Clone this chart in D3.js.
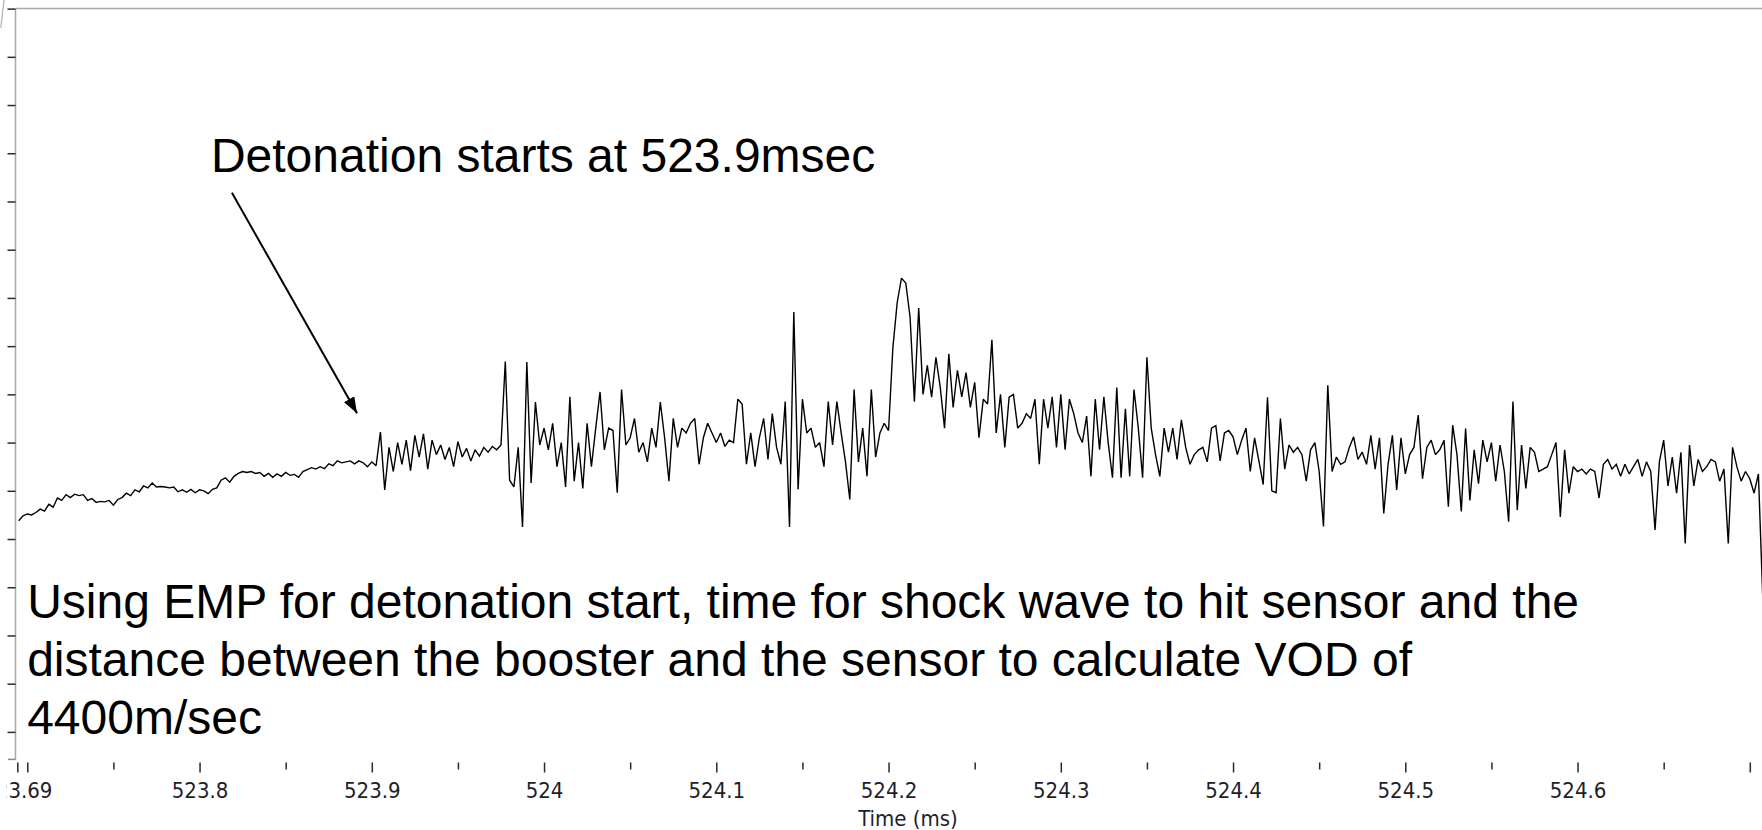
<!DOCTYPE html>
<html>
<head>
<meta charset="utf-8">
<script src="https://cdn.jsdelivr.net/npm/d3@7"></script>
<style>
  html, body { margin: 0; padding: 0; background: #fff; overflow: hidden; }
  svg { display: block; }
  .tick-label { font-family: "DejaVu Sans Condensed", "DejaVu Sans", sans-serif; font-stretch: condensed; font-size: 22px; fill: #1e1e2a; }
  .note { font-family: "Liberation Sans", Arial, sans-serif; font-size: 48px; fill: #000; }
</style>
</head>
<body>
<svg id="chart" width="1762" height="830"></svg>
<script>
// Sensor trace: one sample every 2.5 µs starting at 523.695 ms, vertical scale in screen divisions.
const sampleStart = 523.695;
const sampleStep = 0.0025;
const signal = [
  4.38, 4.48, 4.52, 4.50, 4.55, 4.62, 4.58, 4.72, 4.66, 4.85,
  4.80, 4.92, 4.86, 4.93, 4.90, 4.92, 4.80, 4.84, 4.76, 4.78,
  4.77, 4.80, 4.70, 4.82, 4.86, 4.95, 4.90, 5.02, 4.98, 5.10,
  5.06, 5.16, 5.08, 5.09, 5.08, 5.06, 5.08, 4.98, 5.02, 4.97,
  5.03, 4.96, 5.02, 5.00, 4.94, 5.03, 5.06, 5.22, 5.27, 5.18,
  5.30, 5.36, 5.40, 5.38, 5.40, 5.36, 5.38, 5.30, 5.36, 5.28,
  5.35, 5.30, 5.38, 5.32, 5.34, 5.28, 5.40, 5.44, 5.48, 5.45,
  5.50, 5.46, 5.56, 5.52, 5.62, 5.58, 5.60, 5.62, 5.56, 5.62,
  5.58, 5.50, 5.60, 5.52, 6.22, 5.02, 5.90, 5.40, 6.00, 5.55,
  6.05, 5.42, 6.15, 5.70, 6.18, 5.45, 6.05, 5.75, 5.95, 5.65,
  5.90, 5.50, 6.02, 5.70, 5.88, 5.62, 5.85, 5.72, 5.90, 5.80,
  5.92, 5.85, 5.95, 7.68, 5.22, 5.08, 5.90, 4.25, 7.67, 5.16,
  6.84, 5.95, 6.30, 5.85, 6.40, 5.50, 6.00, 5.08, 6.95, 5.20,
  6.00, 5.05, 6.40, 5.50, 6.30, 7.05, 5.85, 6.30, 6.25, 4.96,
  7.10, 5.95, 6.10, 6.50, 5.80, 6.00, 5.60, 6.30, 5.90, 6.84,
  6.10, 5.20, 6.50, 5.90, 6.30, 6.20, 6.40, 6.50, 5.55, 6.10,
  6.40, 6.20, 6.00, 6.20, 5.92, 6.05, 6.00, 6.90, 6.80, 5.55,
  6.20, 5.50, 6.10, 6.50, 5.65, 6.60, 5.90, 5.55, 6.85, 4.25,
  8.71, 5.03, 6.90, 6.20, 6.30, 5.90, 6.00, 5.50, 6.85, 5.95,
  6.85, 6.20, 5.60, 4.82, 7.10, 5.60, 6.30, 5.30, 7.10, 5.70,
  6.20, 6.40, 6.25, 7.96, 8.90, 9.41, 9.31, 8.60, 6.85, 8.79,
  7.00, 7.60, 6.94, 7.77, 7.15, 6.30, 7.84, 6.73, 7.50, 6.95,
  7.45, 6.73, 7.25, 6.10, 6.90, 6.80, 8.13, 6.20, 7.00, 5.90,
  6.94, 7.00, 6.30, 6.40, 6.60, 6.50, 6.90, 5.55, 6.90, 6.30,
  6.95, 5.90, 7.00, 5.85, 6.90, 6.60, 6.20, 6.00, 6.55, 5.30,
  6.90, 5.85, 6.95, 6.00, 5.27, 7.14, 5.27, 6.70, 5.30, 7.10,
  6.30, 5.27, 7.77, 6.30, 5.75, 5.30, 6.30, 5.80, 6.30, 5.65,
  6.47, 5.90, 5.55, 5.75, 5.85, 5.90, 5.60, 6.30, 6.35, 5.62,
  6.20, 6.25, 6.12, 5.75, 6.05, 6.30, 5.40, 6.10, 5.62, 5.13,
  6.94, 5.00, 4.96, 6.50, 5.45, 5.95, 5.80, 5.90, 5.75, 5.20,
  5.85, 6.00, 5.40, 4.26, 7.19, 5.40, 5.70, 5.55, 5.60, 5.90,
  6.12, 5.65, 5.80, 5.55, 6.15, 5.45, 6.10, 4.53, 5.55, 6.15,
  5.02, 6.10, 5.35, 5.75, 5.90, 6.57, 5.25, 5.90, 6.05, 5.75,
  5.85, 6.05, 4.67, 6.36, 5.75, 4.57, 6.29, 4.80, 5.85, 5.15,
  6.05, 5.60, 6.00, 5.20, 5.95, 5.40, 4.36, 6.85, 4.60, 5.95,
  5.05, 5.90, 5.80, 5.40, 5.45, 5.50, 5.75, 6.00, 4.46, 5.85,
  4.95, 5.50, 5.40, 5.45, 5.35, 5.45, 5.40, 4.85, 5.55, 5.65,
  5.45, 5.55, 5.30, 5.55, 5.35, 5.50, 5.65, 5.30, 5.60, 5.40,
  4.19, 5.60, 6.05, 5.10, 5.70, 4.95, 5.80, 3.91, 5.95, 5.10,
  5.65, 5.40, 5.50, 5.65, 5.60, 5.20, 5.45, 3.91, 5.90, 5.50,
  5.20, 5.40, 5.25, 4.95, 5.35, 2.80, 5.60
];

// Time axis (ms)
const axisStart = 523.6942;
const majorTicks = [523.7, 523.8, 523.9, 524.0, 524.1, 524.2, 524.3, 524.4, 524.5, 524.6, 524.7];
const minorTicks = [523.75, 523.85, 523.95, 524.05, 524.15, 524.25, 524.35, 524.45, 524.55, 524.65];
const labelledTicks = [523.8, 523.9, 524.0, 524.1, 524.2, 524.3, 524.4, 524.5, 524.6];
const xTitle = "Time (ms)";

// Vertical divisions (unlabelled)
const yTicks = [0, 1, 2, 3, 4, 5, 6, 7, 8, 9, 10, 11, 12, 13, 14, 15];
const yFloor = -0.57;

// Annotations, placed in data units (time ms, divisions)
const headline = { text: "Detonation starts at 523.9msec", t: 523.8066, v: 11.62 };
const arrow = { from: { t: 523.8188, v: 11.18 }, to: { t: 523.8914, v: 6.61 } };
const noteLines = [
  "Using EMP for detonation start, time for shock wave to hit sensor and the",
  "distance between the booster and the sensor to calculate VOD of",
  "4400m/sec"
];
const noteBaselines = [2.37, 1.16, -0.05];
const noteStart = 523.6999;

const W = 1762, H = 830;
const plotLeft = 15.5, plotTop = 8.5;
const labelEdge = 6.5;

const svg = d3.select("#chart");
const defs = svg.append("defs");

const x = d3.scaleLinear().domain([523.7, 524.7]).range([27.3, 1749.8]);
const y = d3.scaleLinear().domain([0, 15]).range([731.9, 8.6]);

// clip for the trace
defs.append("clipPath").attr("id", "plot-clip")
  .append("rect").attr("x", plotLeft).attr("y", plotTop)
  .attr("width", W - plotLeft).attr("height", y(yFloor) - plotTop);

// clip for the axis labels (the canvas edge of the time axis)
defs.append("clipPath").attr("id", "label-clip")
  .append("rect").attr("x", labelEdge).attr("y", 0)
  .attr("width", W - labelEdge).attr("height", H);

// frame: top border and left axis line
svg.append("line")
  .attr("x1", plotLeft).attr("x2", W).attr("y1", plotTop).attr("y2", plotTop)
  .attr("stroke", "#a9a9a9").attr("stroke-width", 1.5);
svg.append("line")
  .attr("x1", plotLeft).attr("x2", plotLeft).attr("y1", plotTop).attr("y2", y(yFloor))
  .attr("stroke", "#a9a9a9").attr("stroke-width", 1.5);
svg.append("line")
  .attr("x1", 8).attr("x2", plotLeft).attr("y1", y(yFloor)).attr("y2", y(yFloor))
  .attr("stroke", "#8a8a8a").attr("stroke-width", 1.5);

// small fragment of a label cut off at the corner
svg.append("line")
  .attr("x1", 4).attr("y1", 0).attr("x2", 0.8).attr("y2", 28)
  .attr("stroke", "#b0b0b0").attr("stroke-width", 1.2);

// y axis ticks
const yAxis = svg.append("g")
  .attr("transform", `translate(${plotLeft},0)`)
  .call(d3.axisLeft(y).tickValues(yTicks).tickSize(8).tickFormat(""));
yAxis.select(".domain").remove();
yAxis.selectAll(".tick line").attr("stroke", "#3a3a3a").attr("stroke-width", 1.5);

// x axis: minor ticks
const axisY = 762.5;
const xMinor = svg.append("g")
  .attr("transform", `translate(0,${axisY})`)
  .call(d3.axisBottom(x).tickValues(minorTicks).tickSize(7).tickFormat(""));
xMinor.select(".domain").remove();

// x axis: major ticks with labels
const xMajor = svg.append("g")
  .attr("transform", `translate(0,${axisY})`)
  .call(d3.axisBottom(x).tickValues([axisStart].concat(majorTicks)).tickSize(10)
    .tickFormat(d => d === axisStart ? d3.format(".2f")(d)
                : (labelledTicks.includes(d) ? d3.format(".1~f")(d) : "")));
xMajor.select(".domain").remove();

svg.selectAll(".tick line").attr("stroke", "#2a2a2a").attr("stroke-width", 1.5);
xMajor.selectAll(".tick text")
  .attr("class", "tick-label")
  .attr("y", 35.5).attr("dy", 0)
  .attr("font-family", null).attr("font-size", null).attr("fill", null);
xMajor.attr("clip-path", null);
svg.append("g").attr("clip-path", "url(#label-clip)").node().appendChild(xMajor.node());

// axis title
svg.append("text")
  .attr("class", "tick-label")
  .attr("x", 908).attr("y", 826)
  .attr("text-anchor", "middle")
  .text(xTitle);

// trace
const trace = d3.line()
  .x((d, i) => x(sampleStart + i * sampleStep))
  .y(d => y(d))
  .curve(d3.curveLinear);

svg.append("path")
  .datum(signal)
  .attr("clip-path", "url(#plot-clip)")
  .attr("d", trace)
  .attr("fill", "none")
  .attr("stroke", "#000")
  .attr("stroke-width", 1.4)
  .attr("stroke-linejoin", "miter")
  .attr("stroke-miterlimit", 2);

// annotation arrow
defs.append("marker")
  .attr("id", "head")
  .attr("markerUnits", "userSpaceOnUse")
  .attr("viewBox", "0 0 16 12")
  .attr("refX", 16).attr("refY", 6)
  .attr("markerWidth", 16).attr("markerHeight", 12)
  .attr("orient", "auto")
  .append("path").attr("d", "M0,0 L16,6 L0,12 Z").attr("fill", "#000");

svg.append("line")
  .attr("x1", x(arrow.from.t)).attr("y1", y(arrow.from.v))
  .attr("x2", x(arrow.to.t)).attr("y2", y(arrow.to.v))
  .attr("stroke", "#000").attr("stroke-width", 2)
  .attr("marker-end", "url(#head)");

svg.append("text")
  .attr("class", "note")
  .attr("x", x(headline.t)).attr("y", y(headline.v))
  .text(headline.text);

svg.selectAll("text.body-note")
  .data(noteLines)
  .join("text")
  .attr("class", "note body-note")
  .attr("x", x(noteStart))
  .attr("y", (d, i) => y(noteBaselines[i]))
  .text(d => d);
</script>
</body>
</html>
